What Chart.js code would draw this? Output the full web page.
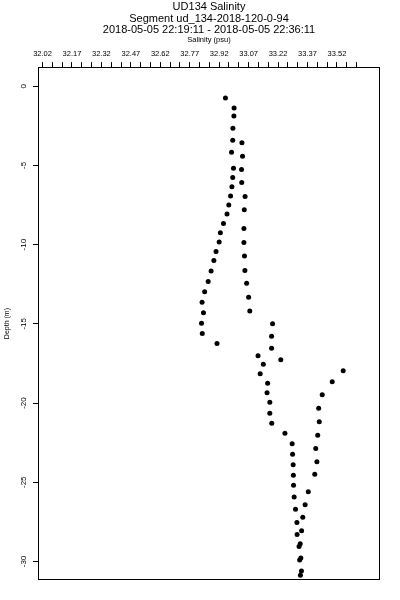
<!DOCTYPE html>
<html>
<head>
<meta charset="utf-8">
<script src="https://cdn.jsdelivr.net/npm/chart.js@4.4.1/dist/chart.umd.min.js"></script>
<style>
  html, body { margin: 0; padding: 0; background: #fff; }
  canvas { display: block; }
</style>
</head>
<body>
<canvas id="salinityChart" width="400" height="600"></canvas>
<script>
// UD134 salinity profile - depth vs salinity, one dive segment
const titleLines = [
  'UD134 Salinity',
  'Segment ud_134-2018-120-0-94',
  '2018-05-05 22:19:11 - 2018-05-05 22:36:11'
];

const salinity = [
  32.952, 32.996, 32.995, 32.990, 32.989, 32.983, 32.993, 32.989, 32.985, 32.978,
  32.969, 32.960, 32.942, 32.926, 32.920, 32.904, 32.893, 32.879, 32.864, 32.846,
  32.833, 32.840, 32.830, 32.834, 32.909,
  33.036, 33.039, 33.034, 33.035, 33.052, 33.048, 33.046, 33.046, 33.049, 33.051,
  33.060, 33.070, 33.076, 33.192, 33.187, 33.187, 33.234, 33.118, 33.145, 33.129,
  33.167, 33.164, 33.178, 33.178, 33.188, 33.255, 33.292, 33.294, 33.297, 33.298,
  33.299, 33.302, 33.309, 33.316, 33.317, 33.333, 33.327, 33.336, 33.330, 33.339,
  33.334,
  33.552, 33.496, 33.445, 33.427, 33.430, 33.422, 33.412, 33.418, 33.407, 33.374,
  33.358, 33.346, 33.340
];

const depth = [
  -0.744, -1.375, -1.880, -2.650, -3.407, -4.164, -5.186, -5.760, -6.353, -6.927,
  -7.508, -8.063, -8.662, -9.256, -9.830, -10.429, -11.009, -11.659, -12.322, -12.978,
  -13.640, -14.309, -14.965, -15.615, -16.246,
  -3.565, -4.429, -5.268, -6.088, -6.972, -7.804, -8.978, -9.861, -10.713, -11.628,
  -12.442, -13.325, -14.196, -14.997, -15.792, -16.549, -17.274, -17.022, -17.558, -18.158,
  -18.757, -19.356, -19.956, -20.650, -21.281, -21.912, -22.574, -23.230, -23.899, -24.562,
  -25.193, -25.931, -26.700, -27.539, -28.297, -28.877, -29.054, -29.779, -29.905, -30.599,
  -30.871,
  -17.962, -18.662, -19.476, -20.334, -21.186, -22.038, -22.871, -23.710, -24.498, -25.596,
  -26.416, -27.205, -28.057
];

const xTickValues = [
  32.02, 32.07, 32.12, 32.17, 32.22, 32.27, 32.32, 32.37, 32.42, 32.47, 32.52,
  32.57, 32.62, 32.67, 32.72, 32.77, 32.82, 32.87, 32.92, 32.97, 33.02, 33.07,
  33.12, 33.17, 33.22, 33.27, 33.32, 33.37, 33.42, 33.47, 33.52, 33.57, 33.62
];
const xTickLabels = [
  '32.02', '32.17', '32.32', '32.47', '32.62', '32.77',
  '32.92', '33.07', '33.22', '33.37', '33.52'
];
const yTicks = [0, -5, -10, -15, -20, -25, -30];

const FONT = '"Liberation Sans", Arial, sans-serif';
Chart.defaults.font.family = FONT;
Chart.defaults.color = '#000';

// box round the plot + y labels turned on their side like the original
const frameAndLabels = {
  id: 'frameAndLabels',
  afterDraw(chart) {
    const { ctx, chartArea: a } = chart;
    const yScale = chart.scales.y;
    ctx.save();
    ctx.strokeStyle = '#000';
    ctx.lineWidth = 1;
    ctx.strokeRect(Math.round(a.left) + 0.5, Math.round(a.top) + 0.5,
      Math.round(a.right - a.left) - 1, Math.round(a.bottom - a.top) - 1);
    ctx.fillStyle = '#000';
    ctx.font = '8px ' + FONT;
    ctx.textAlign = 'center';
    ctx.textBaseline = 'middle';
    yScale.ticks.forEach(t => {
      const py = yScale.getPixelForValue(t.value);
      ctx.save();
      ctx.translate(24, py);
      ctx.rotate(-Math.PI / 2);
      ctx.fillText(String(t.value), 0, 0);
      ctx.restore();
    });
    ctx.restore();
  }
};

const points = salinity.map((s, i) => ({ x: s, y: depth[i] }));

new Chart(document.getElementById('salinityChart'), {
  type: 'scatter',
  data: {
    datasets: [{
      data: points,
      pointRadius: 2.5,
      pointHoverRadius: 2.5,
      pointBackgroundColor: '#000',
      pointBorderWidth: 0,
      showLine: false
    }]
  },
  options: {
    responsive: false,
    animation: false,
    devicePixelRatio: 1,
    layout: { padding: { top: 0, left: 0, right: 20, bottom: 20 } },
    plugins: {
      legend: { display: false },
      tooltip: { enabled: false },
      title: {
        display: true,
        text: titleLines,
        color: '#000',
        fullSize: false,
        font: { size: 11, weight: 'normal', lineHeight: 1.05 },
        padding: { top: 1.5, bottom: 0 }
      }
    },
    scales: {
      x: {
        type: 'linear',
        position: 'top',
        min: 31.997,
        max: 33.7394,
        afterBuildTicks: s => { s.ticks = xTickValues.map(v => ({ value: v })); },
        afterFit: s => { s.height = 31; },
        ticks: {
          autoSkip: false,
          maxRotation: 0,
          minRotation: 0,
          padding: 4,
          color: '#000',
          font: { size: 7.5 },
          callback: v => {
            const l = Number(v).toFixed(2);
            return xTickLabels.includes(l) ? l : '';
          }
        },
        grid: { drawOnChartArea: false, drawTicks: true, tickLength: 5, color: '#000', lineWidth: 1 },
        border: { display: false },
        title: {
          display: true,
          text: 'Salinity (psu)',
          color: '#000',
          font: { size: 7.5, lineHeight: 1 },
          padding: 0
        }
      },
      y: {
        type: 'linear',
        min: -31.17,
        max: 1.2,
        afterBuildTicks: s => { s.ticks = yTicks.map(v => ({ value: v })); },
        afterFit: s => { s.width = 38; },
        ticks: { display: false },
        grid: { drawOnChartArea: false, drawTicks: true, tickLength: 5, color: '#000', lineWidth: 1 },
        border: { display: false },
        title: {
          display: true,
          text: 'Depth (m)',
          color: '#000',
          font: { size: 7, lineHeight: 1 },
          padding: { top: 3.5, bottom: 0 }
        }
      }
    }
  },
  plugins: [frameAndLabels]
});
</script>
</body>
</html>
